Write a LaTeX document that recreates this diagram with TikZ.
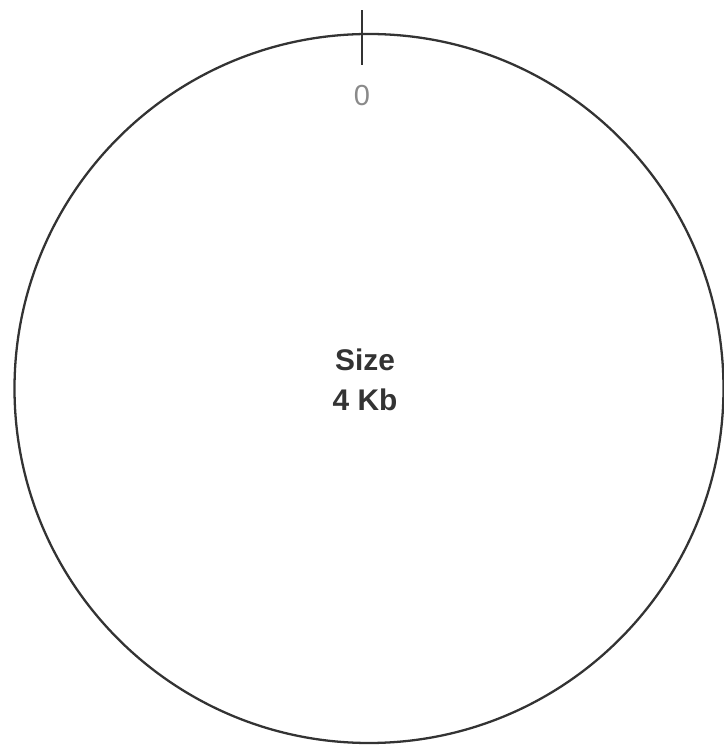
\documentclass[tikz,border=0pt]{standalone}
\usepackage{fontspec}
\setmainfont{Liberation Sans}
\usetikzlibrary{positioning, calc}
\definecolor{ringgray}{HTML}{333333}
\definecolor{labelgray}{HTML}{8A8A8A}
\tikzset{
    ring/.style={draw=ringgray, line width=1.3pt},
    tickmark/.style={draw=ringgray, line width=1.3pt},
    poslabel/.style={font=\fontsize{16.5}{18}\selectfont, text=labelgray, inner sep=0pt},
    sizelabel/.style={font=\fontsize{17}{22.5}\selectfont\bfseries, text=ringgray, align=center, inner sep=0pt}
}
\begin{document}
\begin{tikzpicture}[x=0.02cm, y=0.02cm]
                \useasboundingbox (0,0) rectangle (724,748);
                \coordinate (center) at (369,359.5);
                \draw[ring] (center) circle[radius=354.5];
                \coordinate (tickin) at (362,683);
                \coordinate (tickout) at (362,738);
                \draw[tickmark] (tickin) -- (tickout);
                \node[poslabel, below=0.4cm of tickin] (zero) {0};
                \node[sizelabel] (size) at (365,368) {Size\\4 Kb};
            \end{tikzpicture}
\end{document}
